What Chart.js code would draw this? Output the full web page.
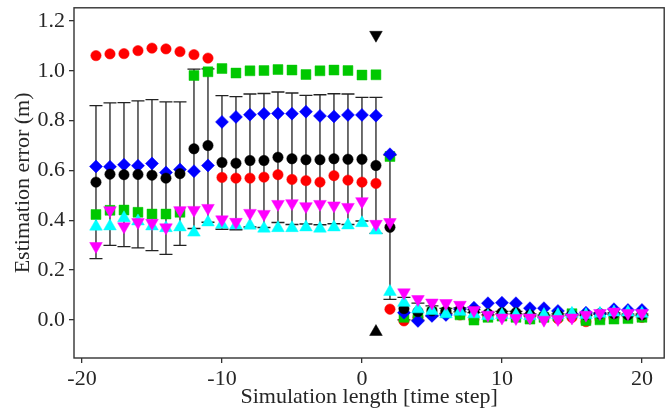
<!DOCTYPE html>
<html>
<head>
<meta charset="utf-8">
<script src="https://cdn.jsdelivr.net/npm/chart.js@4.4.1/dist/chart.umd.min.js"></script>
<style>
  html, body { margin: 0; padding: 0; background: #fff; }
  #chart { display: block; }
</style>
</head>
<body>
<canvas id="chart" width="672" height="412"></canvas>
<script>
// Data

const steps = [-19, -18, -17, -16, -15, -14, -13, -12, -11, -10, -9, -8, -7, -6, -5, -4, -3, -2, -1, 0,
  1, 2, 3, 4, 5, 6, 7, 8, 9, 10, 11, 12, 13, 14, 15, 16, 17, 18, 19, 20];

const redErr = [1.061, 1.068, 1.069, 1.081, 1.091, 1.088, 1.077, 1.065, 1.051,
  0.572, 0.569, 0.569, 0.573, 0.583, 0.564, 0.559, 0.553, 0.579, 0.561, 0.553, 0.548,
  0.043, -0.004, 0.01, 0.02, 0.03, 0.02, 0.003, 0.015, 0.02, 0.015, 0.01, 0.01, 0.005, 0.01, -0.007, 0.005, 0.01, 0.015, 0.01];

const greenErr = [0.423, 0.44, 0.441, 0.432, 0.425, 0.425, 0.432, 0.981, 0.996,
  1.009, 0.991, 1.0, 1.001, 1.005, 1.003, 0.985, 1.0, 1.003, 1.001, 0.983, 0.984,
  0.656, 0.01, 0.016, 0.03, 0.029, 0.02, -0.001, 0.01, 0.015, 0.01, 0.003, 0.01, 0.015, 0.025, -0.003, 0.0, 0.003, 0.005, 0.01];

const blueErr = [0.616, 0.615, 0.623, 0.619, 0.628, 0.592, 0.604, 0.597, 0.62,
  0.795, 0.815, 0.824, 0.828, 0.829, 0.828, 0.836, 0.819, 0.817, 0.823, 0.823, 0.82,
  0.665, 0.029, -0.004, 0.016, 0.02, 0.043, 0.049, 0.067, 0.069, 0.067, 0.047, 0.047, 0.036, 0.023, 0.029, 0.025, 0.043, 0.04, 0.04];

const blackErr = [0.553, 0.585, 0.583, 0.584, 0.581, 0.569, 0.587, 0.687, 0.70,
  0.632, 0.629, 0.64, 0.64, 0.653, 0.647, 0.643, 0.643, 0.647, 0.645, 0.645, 0.62,
  0.372, 0.045, 0.033, 0.036, 0.036, 0.04, 0.035, 0.025, 0.029, 0.029, 0.02, 0.015, 0.02, 0.02, 0.02, 0.025, 0.025, 0.02, 0.02];

const blackStd = [0.307, 0.286, 0.289, 0.295, 0.303, 0.306, 0.288, 0.32, 0.308,
  0.268, 0.267, 0.267, 0.269, 0.262, 0.264, 0.258, 0.261, 0.261, 0.262, 0.248, 0.273,
  0.29, 0.045, 0.034, 0.02, 0.01, 0.008, 0.006, 0.005, 0.005, 0.005, 0.004, 0.004, 0.004, 0.003, 0.003, 0.003, 0.003, 0.003, 0.003];

const magentaErr = [0.296, 0.44, 0.375, 0.392, 0.389, 0.371, 0.44, 0.441, 0.449,
  0.403, 0.393, 0.429, 0.425, 0.465, 0.468, 0.456, 0.465, 0.459, 0.453, 0.476, 0.385,
  0.392, 0.11, 0.083, 0.069, 0.067, 0.06, 0.039, 0.02, 0.009, 0.007, 0.009, 0.0, 0.003, 0.009, 0.02, 0.027, 0.033, 0.027, 0.027];

const cyanErr = [0.375, 0.376, 0.409, 0.396, 0.376, 0.369, 0.372, 0.351, 0.392,
  0.383, 0.38, 0.379, 0.367, 0.369, 0.369, 0.372, 0.367, 0.372, 0.38, 0.389, 0.359,
  0.113, 0.069, 0.043, 0.036, 0.023, 0.033, 0.023, 0.016, 0.02, 0.02, 0.015, 0.02, 0.02, 0.025, 0.02, 0.025, 0.03, 0.03, 0.025];

// black triangles marking the switch step
const boundX = [1, 1];
const boundY = [1.144, -0.048];

const xTicks = [-20, -10, 0, 10, 20];
const yTicks = [0.0, 0.2, 0.4, 0.6, 0.8, 1.0, 1.2];

// Helpers

const pts = (ys) => ys.map((y, i) => ({ x: steps[i], y: y }));

const series = (ys, color, style, radius, order, rotation) => ({
  data: pts(ys),
  backgroundColor: color,
  borderColor: color,
  borderWidth: 0.5,
  pointStyle: style,
  pointRadius: radius,
  pointHoverRadius: radius,
  pointRotation: rotation || 0,
  order: order,
});

const ink = "#262626";
const font = { family: "'Liberation Serif', 'Times New Roman', serif", size: 22 };

// error bars of the black series
const errorBars = {
  id: "errorBars",
  beforeDatasetsDraw(chart) {
    const ctx = chart.ctx;
    const x = chart.scales.x;
    const y = chart.scales.y;
    ctx.save();
    ctx.strokeStyle = "#222";
    ctx.lineWidth = 1.3;
    steps.forEach((s, i) => {
      const px = x.getPixelForValue(s);
      const top = y.getPixelForValue(blackErr[i] + blackStd[i]);
      const bot = y.getPixelForValue(blackErr[i] - blackStd[i]);
      ctx.beginPath();
      ctx.moveTo(px, top);
      ctx.lineTo(px, bot);
      ctx.moveTo(px - 6.5, top);
      ctx.lineTo(px + 6.5, top);
      ctx.moveTo(px - 6.5, bot);
      ctx.lineTo(px + 6.5, bot);
      ctx.stroke();
    });
    ctx.restore();
  },
};

const frame = {
  id: "frame",
  afterDatasetsDraw(chart) {
    const a = chart.chartArea;
    const ctx = chart.ctx;
    ctx.save();
    ctx.strokeStyle = "#333";
    ctx.lineWidth = 1.4;
    ctx.strokeRect(a.left, a.top, a.right - a.left, a.bottom - a.top);
    ctx.restore();
  },
};

// Chart

const canvas = document.getElementById("chart");

new Chart(canvas, {
  type: "scatter",
  data: {
    datasets: [
      series(magentaErr, "#ff00ff", "triangle", 7.3, 0, 180),
      series(cyanErr, "#00ffff", "triangle", 7.3, 1),
      series(blackErr, "#000000", "circle", 5.2, 2),
      series(blueErr, "#0000ff", "rectRot", 6.5, 3),
      series(greenErr, "#00c800", "rect", 7.0, 4),
      series(redErr, "#ff0000", "circle", 5.2, 5),
      {
        data: boundX.map((x, i) => ({ x: x, y: boundY[i] })),
        backgroundColor: "#000",
        borderColor: "#000",
        borderWidth: 0.5,
        pointStyle: "triangle",
        pointRadius: 7.3,
        pointRotation: [180, 0],
        order: 6,
      },
    ],
  },
  options: {
    responsive: false,
    devicePixelRatio: 1,
    animation: false,
    layout: { padding: { top: 6, right: 7, left: 0, bottom: 0 } },
    plugins: {
      legend: { display: false },
      tooltip: { enabled: false },
    },
    scales: {
      x: {
        type: "linear",
        min: -20.57,
        max: 21.59,
        afterBuildTicks: (scale) => {
          scale.ticks = xTicks.map((v) => ({ value: v }));
        },
        afterFit: (scale) => {
          scale.height = 54;
          scale.paddingLeft = 0;
          scale.paddingRight = 0;
        },
        ticks: { color: ink, font: font, padding: 3, maxRotation: 0 },
        grid: { drawOnChartArea: false, drawTicks: true, tickLength: 5, color: "#333", lineWidth: 1.3 },
        border: { display: false },
        title: {
          display: true,
          text: "Simulation length [time step]",
          color: ink,
          font: font,
          padding: { top: 0, bottom: 2 },
        },
      },
      y: {
        type: "linear",
        min: -0.153,
        max: 1.253,
        afterBuildTicks: (scale) => {
          scale.ticks = yTicks.map((v) => ({ value: v }));
        },
        afterFit: (scale) => {
          scale.width = 74;
          scale.paddingTop = 0;
          scale.paddingBottom = 0;
        },
        ticks: {
          color: ink,
          font: font,
          padding: 4,
          callback: (v) => Number(v).toFixed(1),
        },
        grid: { drawOnChartArea: false, drawTicks: true, tickLength: 5, color: "#333", lineWidth: 1.3 },
        border: { display: false },
        title: {
          display: true,
          text: "Estimation error (m)",
          color: ink,
          font: font,
          padding: { top: 10, bottom: 0 },
        },
      },
    },
  },
  plugins: [errorBars, frame],
});
</script>
</body>
</html>
